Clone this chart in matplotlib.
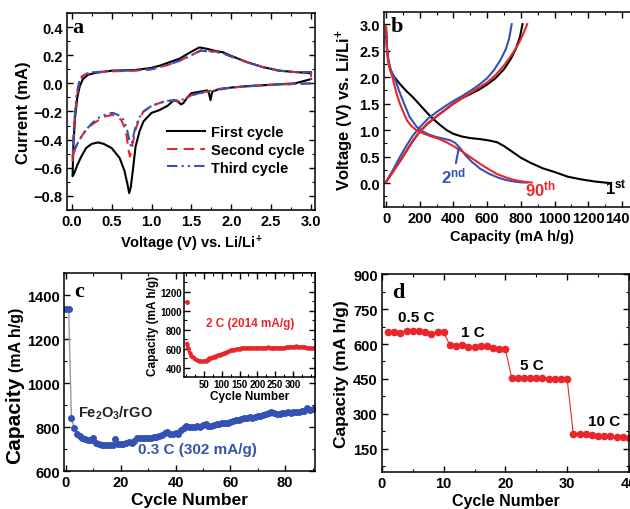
import matplotlib.pyplot as plt
from matplotlib.ticker import MultipleLocator

plt.rcParams['font.family'] = ['Liberation Sans', 'DejaVu Sans']
plt.rcParams['font.weight'] = 'bold'
plt.rcParams['axes.labelweight'] = 'bold'
plt.rcParams['mathtext.fontset'] = 'custom'
plt.rcParams['mathtext.rm'] = 'Liberation Sans:bold'
plt.rcParams['mathtext.it'] = 'Liberation Sans:bold'
plt.rcParams['mathtext.bf'] = 'Liberation Sans:bold'
plt.rcParams['mathtext.default'] = 'rm'
plt.rcParams['axes.linewidth'] = 1.1

RED = '#e8262b'
BLUE = '#3452b4'

# ---- (a) cyclic voltammetry ----
v1 = [3.00, 2.80, 2.50, 2.20, 2.00, 1.85, 1.76, 1.74, 1.72, 1.70, 1.60, 1.50, 1.45, 1.40, 1.37, 1.33,
      1.28, 1.20, 1.10, 1.00, 0.90, 0.85, 0.80, 0.77, 0.74, 0.72, 0.70, 0.66, 0.60, 0.50, 0.40, 0.33,
      0.25, 0.18, 0.12, 0.07, 0.03, 0.01,
      0.01, 0.02, 0.04, 0.07, 0.10, 0.14, 0.20, 0.30, 0.50, 0.80, 1.00, 1.10, 1.20, 1.35, 1.50, 1.60,
      1.70, 1.80, 1.90, 2.00, 2.20, 2.40, 2.60, 2.80, 2.95, 3.00]
i1 = [0.03, 0.00, -0.01, -0.02, -0.03, -0.04, -0.06, -0.12, -0.07, -0.05, -0.06, -0.07, -0.10, -0.14, -0.15, -0.13,
      -0.12, -0.16, -0.19, -0.21, -0.27, -0.34, -0.45, -0.60, -0.74, -0.78, -0.72, -0.62, -0.53, -0.46, -0.43, -0.42,
      -0.43, -0.46, -0.52, -0.58, -0.64, -0.66,
      -0.66, -0.45, -0.25, -0.10, -0.02, 0.03, 0.06, 0.075, 0.09, 0.095, 0.11, 0.125, 0.145, 0.175, 0.225, 0.255,
      0.245, 0.23, 0.22, 0.195, 0.15, 0.115, 0.09, 0.08, 0.075, 0.07]

v2 = [3.00, 2.80, 2.50, 2.20, 2.00, 1.80, 1.60, 1.50, 1.42, 1.36, 1.30, 1.20, 1.10, 1.00, 0.90, 0.84,
      0.80, 0.77, 0.75, 0.73, 0.71, 0.69, 0.66, 0.62, 0.56, 0.50, 0.42, 0.34, 0.26, 0.18, 0.12, 0.07,
      0.04, 0.02, 0.01,
      0.01, 0.03, 0.06, 0.10, 0.15, 0.25, 0.50, 0.80, 1.00, 1.20, 1.35, 1.50, 1.62, 1.70, 1.80, 1.90,
      2.00, 2.20, 2.40, 2.60, 2.80, 2.95, 3.00, 3.00]
i2 = [0.00, -0.005, -0.01, -0.02, -0.03, -0.045, -0.07, -0.085, -0.11, -0.13, -0.125, -0.12, -0.14, -0.16, -0.20, -0.26,
      -0.33, -0.41, -0.47, -0.52, -0.47, -0.38, -0.31, -0.26, -0.23, -0.225, -0.235, -0.26, -0.29, -0.33, -0.38, -0.43,
      -0.47, -0.51, -0.55,
      -0.55, -0.30, -0.10, 0.02, 0.06, 0.075, 0.085, 0.09, 0.10, 0.13, 0.16, 0.20, 0.235, 0.23, 0.225, 0.215,
      0.19, 0.15, 0.115, 0.09, 0.08, 0.08, 0.08, 0.00]

v3 = [3.00, 2.50, 2.00, 1.60, 1.50, 1.42, 1.36, 1.30, 1.20, 1.10, 1.00, 0.90, 0.84, 0.80, 0.77, 0.745,
      0.72, 0.69, 0.65, 0.60, 0.52, 0.45, 0.35, 0.26, 0.18, 0.12, 0.07, 0.04, 0.02, 0.01,
      0.01, 0.03, 0.06, 0.10, 0.15, 0.25, 0.50, 0.80, 1.00, 1.20, 1.35, 1.50, 1.62, 1.70, 1.80, 1.90,
      2.00, 2.20, 2.40, 2.60, 2.80, 2.95, 3.00, 3.00]
i3 = [0.00, -0.01, -0.03, -0.07, -0.085, -0.11, -0.12, -0.12, -0.125, -0.14, -0.16, -0.20, -0.25, -0.31, -0.38, -0.45,
      -0.40, -0.32, -0.26, -0.23, -0.21, -0.215, -0.24, -0.28, -0.33, -0.38, -0.43, -0.46, -0.49, -0.52,
      -0.52, -0.28, -0.08, 0.03, 0.065, 0.078, 0.088, 0.093, 0.10, 0.13, 0.16, 0.20, 0.232, 0.228, 0.222, 0.212,
      0.19, 0.15, 0.115, 0.09, 0.08, 0.08, 0.08, 0.00]

# ---- (b) discharge / charge profiles ----
cap1_d = [0, 5, 12, 25, 45, 80, 120, 160, 200, 240, 280, 320, 360, 400, 450, 500, 560, 620, 660,
          700, 750, 800, 860, 930, 1000, 1080, 1160, 1240, 1300, 1335]
vol1_d = [2.95, 2.6, 2.35, 2.15, 2.02, 1.88, 1.74, 1.62, 1.48, 1.34, 1.21, 1.10, 1.00, 0.93, 0.88, 0.85, 0.83, 0.80, 0.77,
          0.70, 0.59, 0.48, 0.38, 0.28, 0.21, 0.12, 0.07, 0.03, 0.01, 0.0]
cap1_c = [0, 40, 80, 120, 160, 200, 250, 300, 350, 400, 450, 500, 550, 600, 650, 700, 740, 770, 795, 810]
vol1_c = [0.02, 0.22, 0.40, 0.60, 0.80, 0.97, 1.13, 1.26, 1.38, 1.50, 1.60, 1.68, 1.76, 1.86, 1.98, 2.15, 2.34, 2.53,
          2.76, 3.0]

cap2_d = [0, 5, 15, 30, 55, 80, 110, 140, 180, 220, 260, 300, 340, 380, 410, 440, 470, 510, 560, 610,
          660, 710, 760, 800, 835]
vol2_d = [2.9, 2.55, 2.3, 2.12, 1.95, 1.72, 1.48, 1.25, 1.07, 0.97, 0.91, 0.87, 0.84, 0.81, 0.76, 0.66, 0.53, 0.40, 0.27, 0.18,
          0.11, 0.06, 0.03, 0.015, 0.01]
cap2_c = [0, 40, 80, 120, 160, 200, 250, 300, 350, 400, 450, 500, 550, 600, 640, 680, 710, 730, 746]
vol2_c = [0.02, 0.24, 0.48, 0.70, 0.90, 1.05, 1.22, 1.34, 1.45, 1.55, 1.64, 1.74, 1.85, 1.98, 2.13, 2.33, 2.52, 2.72, 3.0]

cap90_d = [0, 5, 12, 25, 40, 60, 80, 100, 125, 150, 180, 220, 260, 310, 360, 410, 460, 510, 560, 610,
           660, 710, 760, 810, 865]
vol90_d = [2.95, 2.55, 2.30, 2.12, 1.98, 1.72, 1.52, 1.36, 1.18, 1.08, 1.00, 0.94, 0.89, 0.84, 0.77, 0.68, 0.58, 0.47, 0.36,
           0.26, 0.17, 0.11, 0.06, 0.03, 0.01]
cap90_c = [0, 40, 80, 120, 160, 200, 250, 300, 350, 400, 450, 500, 550, 600, 650, 700, 750, 790, 815, 838]
vol90_c = [0.02, 0.20, 0.40, 0.60, 0.80, 0.97, 1.14, 1.26, 1.38, 1.50, 1.60, 1.70, 1.80, 1.90, 2.04, 2.22, 2.44, 2.65,
           2.82, 3.0]

# ---- (c) cycling at 0.3 C, inset 2 C ----
cyc_c = list(range(0, 91))
cap_c = [1335, 1335, 840, 795, 770, 758, 750, 745, 742, 740,
         748, 728, 722, 720, 718, 720, 718, 716, 745, 724,
         722, 724, 726, 730, 728, 735, 748, 752, 750, 751,
         752, 750, 754, 756, 760, 762, 775, 778, 770, 768,
         772, 770, 785, 795, 805, 802, 798, 800, 803, 800,
         808, 812, 805, 804, 810, 812, 815, 818, 820, 816,
         822, 826, 830, 834, 838, 840, 842, 845, 840, 846,
         850, 852, 855, 858, 862, 868, 862, 860, 858, 862,
         865, 866, 864, 866, 870, 868, 872, 875, 885, 876, 880]

cyc_in = [2, 5, 10, 15, 20, 25, 30, 35, 40, 45, 50, 55, 60, 65, 70, 75, 80, 85, 90, 95,
          100, 105, 110, 115, 120, 125, 130, 135, 140, 145, 150, 155, 160, 165, 170, 175, 180, 185, 190, 195,
          200, 205, 210, 215, 220, 225, 230, 235, 240, 245, 250, 255, 260, 265, 270, 275, 280, 285, 290, 295,
          300, 305, 310, 315, 320, 325, 330, 335, 340, 345, 350, 355]
cap_in = [655, 610, 560, 530, 510, 495, 485, 478, 472, 470, 470, 475, 488, 500, 505, 515, 520, 528, 532, 540,
          548, 552, 560, 570, 578, 585, 590, 592, 595, 598, 600, 605, 612, 610, 608, 610, 607, 612, 608, 606,
          610, 612, 608, 605, 612, 610, 615, 610, 608, 612, 614, 608, 610, 612, 608, 612, 615, 618, 620, 622,
          618, 624, 625, 622, 620, 618, 622, 615, 608, 610, 605, 607]
first_in = 1090

# ---- (d) rate capability ----
cyc_d = list(range(1, 41))
cap_d = [650, 650, 648, 655, 657, 657, 650, 645, 652, 650,
         595, 593, 595, 588, 586, 590, 590, 583, 578, 578,
         455, 455, 455, 455, 455, 455, 452, 452, 450, 448,
         213, 212, 212, 208, 207, 206, 205, 200, 200, 199]
rate_labels = ['0.5 C', '1 C', '5 C', '10 C']


def style(ax, xmaj, xmin, ymaj, ymin, size=10.5):
    ax.xaxis.set_major_locator(MultipleLocator(xmaj))
    ax.xaxis.set_minor_locator(MultipleLocator(xmin))
    ax.yaxis.set_major_locator(MultipleLocator(ymaj))
    ax.yaxis.set_minor_locator(MultipleLocator(ymin))
    ax.tick_params(which='both', direction='in', top=True, right=True, labelsize=size, pad=3)
    ax.tick_params(which='major', length=4, width=1)
    ax.tick_params(which='minor', length=2, width=0.8)


fig = plt.figure(figsize=(6.3, 5.1), dpi=100)

# panel a
ax = fig.add_axes([0.1063, 0.5863, 0.3937, 0.3863])
ax.plot(v1, i1, color='black', lw=1.5, label='First cycle')
ax.plot(v2, i2, color=RED, lw=1.5, ls=(0, (5, 3)), label='Second cycle')
ax.plot(v3, i3, color=BLUE, lw=1.5, ls=(0, (5, 2, 1, 2, 1, 2)), label='Third cycle')
ax.set_xlim(-0.06, 3.05)
ax.set_ylim(-0.9, 0.5)
style(ax, 0.5, 0.25, 0.2, 0.1, 10.5)
ax.set_xlabel('Voltage (V) vs. Li/Li$^{+}$', fontsize=10.5, labelpad=3)
ax.set_ylabel('Current (mA)', fontsize=12, labelpad=2)
ax.legend(loc='upper left', bbox_to_anchor=(0.405, 0.43), frameon=False, fontsize=10.5,
          handlelength=2.6, handletextpad=0.4, labelspacing=0.25, borderpad=0, borderaxespad=0)
ax.text(0.02, 0.93, 'a', transform=ax.transAxes, fontsize=16, fontweight='bold',
        family='Liberation Serif', va='center')

# panel b
ax = fig.add_axes([0.6095, 0.5922, 0.4063, 0.3824])
ax.plot(cap1_d, vol1_d, color='black', lw=1.5)
ax.plot(cap1_c, vol1_c, color='black', lw=1.5)
ax.plot(cap2_d, vol2_d, color=BLUE, lw=1.5)
ax.plot(cap2_c, vol2_c, color=BLUE, lw=1.5)
ax.plot(cap90_d, vol90_d, color=RED, lw=1.5)
ax.plot(cap90_c, vol90_c, color=RED, lw=1.5)
ax.set_xlim(-12, 1507)
ax.set_ylim(-0.45, 3.23)
style(ax, 200, 100, 0.5, 0.25, 10.5)
ax.set_xlabel('Capacity (mA h/g)', fontsize=10.5, labelpad=3)
ax.set_ylabel('Voltage (V) vs. Li/Li$^{+}$', fontsize=12, labelpad=2)
ax.annotate('2$^{nd}$', xy=(432, 0.66), xytext=(400, -0.05), color=BLUE, fontsize=12,
            ha='center', va='bottom', arrowprops=dict(arrowstyle='-', color=BLUE, lw=1.5, shrinkA=0, shrinkB=0))
ax.text(915, -0.1, '90$^{th}$', color=RED, fontsize=12, ha='center', va='center')
ax.text(1365, -0.08, '1$^{st}$', color='black', fontsize=12, ha='center', va='center')
ax.text(0.025, 0.93, 'b', transform=ax.transAxes, fontsize=16, fontweight='bold',
        family='Liberation Serif', va='center')

# panel c
ax = fig.add_axes([0.1016, 0.0745, 0.3984, 0.3882])
ax.plot(cyc_c, cap_c, color='#9a9a9a', lw=1, marker='o', ms=4, mfc=BLUE, mec=BLUE)
ax.set_xlim(-0.7, 90.9)
ax.set_ylim(600, 1500)
style(ax, 20, 10, 200, 100, 10.5)
ax.set_xlabel('Cycle Number', fontsize=12.5, labelpad=2)
ax.text(18, 868, 'Fe$_2$O$_3$/rGO', fontsize=10.5, ha='center', va='center', color='#222222')
ax.text(48, 700, '0.3 C (302 mA/g)', fontsize=11, ha='center', va='center', color=BLUE)
ax.text(0.04, 0.91, 'c', transform=ax.transAxes, fontsize=16, fontweight='bold',
        family='Liberation Serif', va='center')
fig.text(15 / 630, 1 - 420 / 510, 'Capacity', rotation=90, fontsize=15, ha='center', va='center')
fig.text(17 / 630, 1 - 340 / 510, '(mA h/g)', rotation=90, fontsize=11.5, ha='center', va='center')

# inset
ax = fig.add_axes([0.2921, 0.2588, 0.2079, 0.2039])
ax.plot(cyc_in, cap_in, color=RED, lw=2.2, marker='o', ms=2.2)
ax.plot([1], [first_in], color=RED, marker='o', ms=2.5, ls='none')
ax.set_xlim(-6, 362)
ax.set_ylim(305, 1395)
style(ax, 50, 25, 200, 100, 7)
ax.tick_params(pad=1.5)
ax.set_xticks([50, 100, 150, 200, 250, 300])
ax.set_xlabel('Cycle Number', fontsize=8.5, labelpad=1)
ax.set_ylabel('Capacity (mA h/g)', fontsize=8.5, labelpad=1)
ax.text(180, 870, '2 C (2014 mA/g)', color=RED, fontsize=8.5, ha='center', va='center')

# panel d
ax = fig.add_axes([0.6063, 0.0725, 0.392, 0.3882])
ax.plot(cyc_d, cap_d, color=RED, lw=0.8, marker='o', ms=4.5)
ax.set_xlim(0, 40)
ax.set_ylim(51, 900)
style(ax, 10, 5, 150, 75, 10.5)
ax.set_xlabel('Cycle Number', fontsize=11.5, labelpad=2)
ax.set_ylabel('Capacity (mA h/g)', fontsize=12.5, labelpad=3)
ax.text(5.6, 716, rate_labels[0], fontsize=11, ha='center', va='center')
ax.text(14.8, 651, rate_labels[1], fontsize=11, ha='center', va='center')
ax.text(24.3, 510, rate_labels[2], fontsize=11, ha='center', va='center')
ax.text(36, 271, rate_labels[3], fontsize=11, ha='center', va='center')
ax.text(0.04, 0.91, 'd', transform=ax.transAxes, fontsize=16, fontweight='bold',
        family='Liberation Serif', va='center')

fig.savefig('out.png', dpi=100)
